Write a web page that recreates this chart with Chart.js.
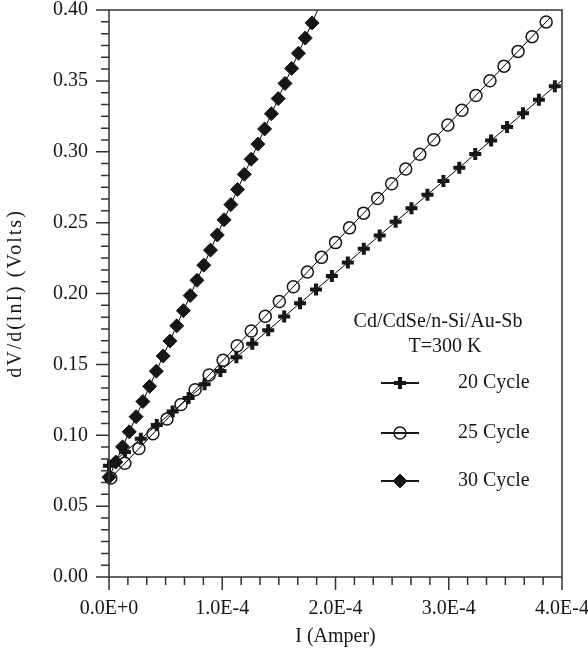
<!DOCTYPE html>
<html>
<head>
<meta charset="utf-8">
<script src="https://cdn.jsdelivr.net/npm/chart.js@4.4.1/dist/chart.umd.min.js"></script>
<style>
    html, body { margin: 0; padding: 0; background: #fff; }
    #wrap { width: 588px; height: 649px; }
</style>
</head>
<body>
<div id="wrap"><canvas id="ivChart" width="588" height="649"></canvas></div>
<script>
// data
const cycle20I = [0, 1.41e-5, 2.81e-5, 4.22e-5, 5.62e-5, 7.03e-5, 8.44e-5, 9.84e-5, 1.125e-4, 1.265e-4,
    1.406e-4, 1.547e-4, 1.687e-4, 1.828e-4, 1.968e-4, 2.109e-4, 2.25e-4, 2.39e-4, 2.531e-4, 2.671e-4,
    2.812e-4, 2.953e-4, 3.093e-4, 3.234e-4, 3.374e-4, 3.515e-4, 3.656e-4, 3.796e-4, 3.937e-4];
const cycle20V = [0.0785, 0.0881, 0.0976, 0.1072, 0.1167, 0.1263, 0.1359, 0.1454, 0.1550, 0.1645,
    0.1741, 0.1837, 0.1932, 0.2028, 0.2124, 0.2219, 0.2315, 0.2410, 0.2506, 0.2602,
    0.2697, 0.2793, 0.2888, 0.2984, 0.3080, 0.3175, 0.3271, 0.3366, 0.3462];

const cycle25I = [1.6e-6, 1.40e-5, 2.64e-5, 3.88e-5, 5.12e-5, 6.36e-5, 7.60e-5, 8.84e-5, 1.008e-4, 1.132e-4,
    1.256e-4, 1.380e-4, 1.504e-4, 1.628e-4, 1.752e-4, 1.876e-4, 2.000e-4, 2.124e-4, 2.248e-4, 2.372e-4,
    2.496e-4, 2.620e-4, 2.744e-4, 2.868e-4, 2.992e-4, 3.116e-4, 3.240e-4, 3.364e-4, 3.488e-4, 3.612e-4,
    3.736e-4, 3.860e-4];
const cycle25V = [0.0698, 0.0802, 0.0906, 0.1010, 0.1114, 0.1217, 0.1321, 0.1425, 0.1529, 0.1632,
    0.1736, 0.1840, 0.1944, 0.2048, 0.2151, 0.2255, 0.2359, 0.2463, 0.2567, 0.2670,
    0.2774, 0.2878, 0.2982, 0.3085, 0.3189, 0.3293, 0.3397, 0.3501, 0.3604, 0.3708,
    0.3812, 0.3916];

const cycle30I = [0, 6.0e-6, 1.20e-5, 1.79e-5, 2.39e-5, 2.99e-5, 3.59e-5, 4.18e-5, 4.78e-5, 5.38e-5,
    5.98e-5, 6.57e-5, 7.17e-5, 7.77e-5, 8.37e-5, 8.96e-5, 9.56e-5, 1.016e-4, 1.076e-4, 1.135e-4,
    1.195e-4, 1.255e-4, 1.315e-4, 1.374e-4, 1.434e-4, 1.494e-4, 1.554e-4, 1.613e-4, 1.673e-4, 1.733e-4,
    1.793e-4];
const cycle30V = [0.0704, 0.0811, 0.0918, 0.1024, 0.1131, 0.1238, 0.1345, 0.1452, 0.1559, 0.1665,
    0.1772, 0.1879, 0.1986, 0.2093, 0.2200, 0.2306, 0.2413, 0.2520, 0.2627, 0.2734,
    0.2841, 0.2947, 0.3054, 0.3161, 0.3268, 0.3375, 0.3482, 0.3588, 0.3695, 0.3802,
    0.3909];

// straight fit lines drawn through each series
const fit20I = [0, 4.0e-4];
const fit20V = [0.0785, 0.3505];
const fit25I = [0, 3.9e-4];
const fit25V = [0.0685, 0.3950];
const fit30I = [0, 1.843e-4];
const fit30V = [0.0704, 0.4000];

const seriesNames = ['20 Cycle', '25 Cycle', '30 Cycle'];
const sampleLabel = ['Cd/CdSe/n-Si/Au-Sb', 'T=300 K'];
const xTitle = 'I (Amper)';
const yTitle = 'dV/d(lnI) (Volts)';

const FONT = '"Liberation Serif", "Times New Roman", serif';
const INK = '#161616';

const toPoints = (xs, ys) => xs.map((v, i) => ({ x: v, y: ys[i] }));

const markerStyles = [
    { pointStyle: 'cross', pointRadius: 6, pointBorderWidth: 4, pointBorderColor: INK, pointBackgroundColor: INK },
    { pointStyle: 'circle', pointRadius: 6, pointBorderWidth: 1.5, pointBorderColor: INK, pointBackgroundColor: 'rgba(0,0,0,0)' },
    { pointStyle: 'rectRot', pointRadius: 7, pointBorderWidth: 1, pointBorderColor: INK, pointBackgroundColor: INK }
];

function lineSet(xs, ys) {
    return {
        data: toPoints(xs, ys), showLine: true, pointRadius: 0,
        borderColor: '#000', borderWidth: 1, order: 2, clip: false
    };
}
function markerSet(xs, ys, idx) {
    return Object.assign({
        label: seriesNames[idx], data: toPoints(xs, ys), showLine: false,
        order: 1, clip: false
    }, markerStyles[idx]);
}

// frame, ticks, y title and legend box
const decorPlugin = {
    id: 'decor',
    afterDraw(chart) {
        const { ctx, chartArea: a, scales: { x, y } } = chart;
        ctx.save();
        ctx.strokeStyle = '#333';
        ctx.lineWidth = 1.5;
        ctx.strokeRect(a.left, a.top, a.right - a.left, a.bottom - a.top);

        ctx.beginPath();
        for (let i = 0; i <= 24; i++) {
            const px = x.getPixelForValue(i * 1e-4 / 6);
            const len = i % 6 === 0 ? 13 : 8;
            ctx.moveTo(px, a.bottom);
            ctx.lineTo(px, a.bottom + len);
        }
        for (let i = 0; i <= 48; i++) {
            const py = y.getPixelForValue(i * 0.05 / 6);
            const len = i % 6 === 0 ? 13 : 8;
            ctx.moveTo(a.left, py);
            ctx.lineTo(a.left - len, py);
        }
        ctx.stroke();

        // rotated y title
        ctx.fillStyle = INK;
        ctx.font = '20px ' + FONT;
        ctx.translate(16, (a.top + a.bottom) / 2);
        ctx.rotate(-Math.PI / 2);
        ctx.letterSpacing = '2px';
        ctx.textAlign = 'center';
        ctx.textBaseline = 'middle';
        ctx.fillText(yTitle, 0, 0);
        ctx.restore();

        // legend
        ctx.save();
        ctx.fillStyle = INK;
        ctx.font = '20px ' + FONT;
        ctx.textAlign = 'center';
        ctx.textBaseline = 'middle';
        ctx.fillText(sampleLabel[0], 438, 322);
        ctx.fillText(sampleLabel[1], 445, 347);

        const rowY = [383, 433, 481];
        ctx.textAlign = 'left';
        rowY.forEach((ry, i) => {
            ctx.strokeStyle = INK;
            ctx.lineWidth = 2;
            ctx.beginPath();
            ctx.moveTo(381, ry);
            ctx.lineTo(419, ry);
            ctx.stroke();
            const st = markerStyles[i];
            ctx.fillStyle = st.pointBackgroundColor;
            ctx.lineWidth = st.pointBorderWidth;
            Chart.helpers.drawPoint(ctx, {
                pointStyle: st.pointStyle, radius: st.pointRadius,
                borderWidth: st.pointBorderWidth, rotation: 0
            }, 400, ry);
            ctx.fillStyle = INK;
            ctx.fillText(seriesNames[i], 458, ry);
        });
        ctx.restore();
    }
};

const ctx = document.getElementById('ivChart');
new Chart(ctx, {
    type: 'scatter',
    data: {
        datasets: [
            lineSet(fit20I, fit20V),
            lineSet(fit25I, fit25V),
            lineSet(fit30I, fit30V),
            markerSet(cycle20I, cycle20V, 0),
            markerSet(cycle25I, cycle25V, 1),
            markerSet(cycle30I, cycle30V, 2)
        ]
    },
    options: {
        responsive: false,
        animation: false,
        devicePixelRatio: 1,
        layout: { padding: { top: 9, right: 26, left: 0, bottom: 0 } },
        plugins: { legend: { display: false }, tooltip: { enabled: false } },
        scales: {
            x: {
                type: 'linear', min: 0, max: 4e-4,
                grid: { display: false, drawTicks: false },
                border: { display: false },
                ticks: {
                    stepSize: 1e-4, padding: 20, color: INK, autoSkip: false, maxRotation: 0,
                    font: { family: FONT, size: 20 },
                    callback: v => v === 0 ? '0.0E+0' : (v * 1e4).toFixed(1) + 'E-4'
                },
                title: {
                    display: true, text: xTitle, color: INK,
                    font: { family: FONT, size: 20 }, padding: { top: 0, bottom: 0 }
                },
                afterFit: s => { s.height = 72; s.paddingLeft = 0; s.paddingRight = 0; }
            },
            y: {
                type: 'linear', min: 0, max: 0.4,
                grid: { display: false, drawTicks: false },
                border: { display: false },
                ticks: {
                    stepSize: 0.05, padding: 21, color: INK,
                    font: { family: FONT, size: 20 },
                    callback: v => v.toFixed(2)
                },
                afterFit: s => { s.width = 109; s.paddingTop = 0; s.paddingBottom = 0; }
            }
        }
    },
    plugins: [decorPlugin]
});
</script>
</body>
</html>
